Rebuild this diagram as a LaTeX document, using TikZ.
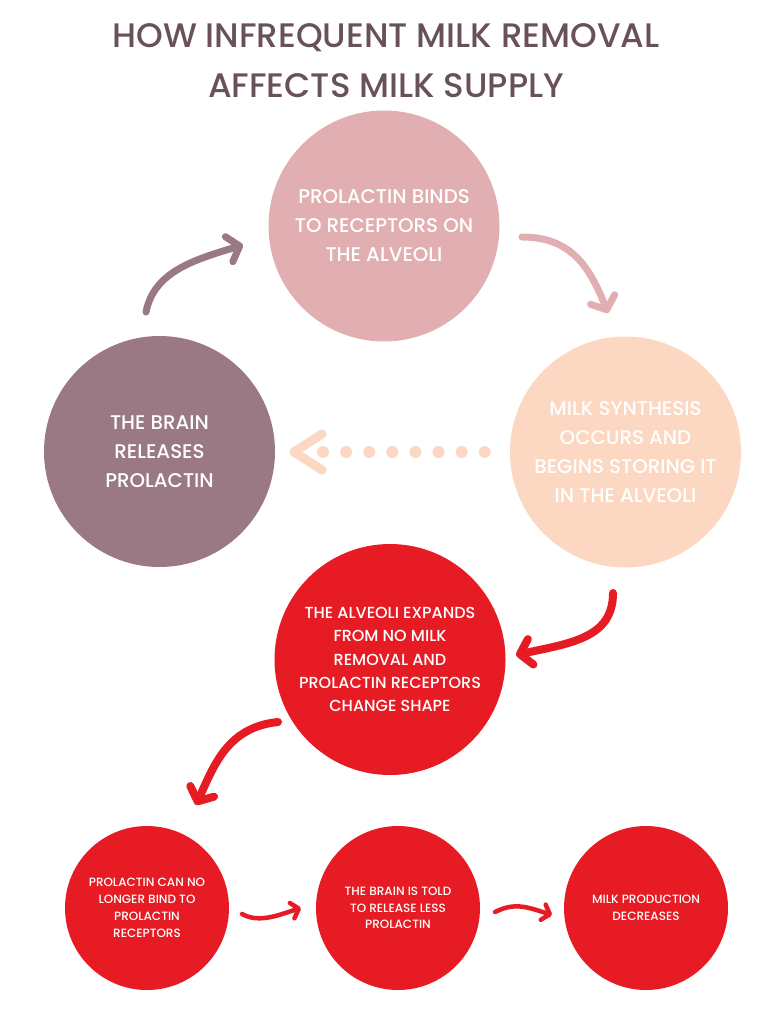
\documentclass[tikz,border=0pt]{standalone}
\usepackage{fontspec}
\setmainfont{Poppins}[UprightFont=* Medium, BoldFont=* SemiBold]
\usetikzlibrary{arrows.meta}

\definecolor{titlegrey}{HTML}{685158}
\definecolor{rosepink}{HTML}{E1AFB1}
\definecolor{mauve}{HTML}{9A7884}
\definecolor{peach}{HTML}{FCD8C2}
\definecolor{brightred}{HTML}{E61B23}

\tikzset{
  bubble/.style={circle, inner sep=0pt, minimum size=231pt, align=center,
                 text=white, font=\fontsize{19.8}{29}\selectfont},
  smallbubble/.style={circle, inner sep=0pt, minimum size=164pt, align=center,
                 text=white, fill=brightred, font=\fontsize{12}{16.8}\selectfont},
  bend arrow/.style={line width=7pt, line cap=round,
                 -{Straight Barb[length=11pt, width=26pt, round]}},
  tiny arrow/.style={line width=4.5pt, line cap=round, brightred,
                 -{Straight Barb[length=7pt, width=16pt, round]}}
}

\begin{document}
\begin{tikzpicture}[x=1pt, y=-1pt]
    \useasboundingbox (0,0) rectangle (768,1024);

    % Title
    \path (386,61) node [align=center, text=titlegrey,
          font=\fontsize{34}{50}\selectfont] (title)
          {HOW INFREQUENT MILK REMOVAL\\AFFECTS MILK SUPPLY};

    % Cycle
    \path (384,226) node [bubble, fill=rosepink] (bind)
          {PROLACTIN BINDS\\TO RECEPTORS ON\\THE ALVEOLI};
    \path (159.5,451.5) node [bubble, fill=mauve] (brain)
          {THE BRAIN\\RELEASES\\PROLACTIN};
    \path (625.5,452) node [bubble, fill=peach] (synth)
          {MILK SYNTHESIS\\OCCURS AND\\BEGINS STORING IT\\IN THE ALVEOLI};

    % No removal
    \path (390,659.5) node [bubble, fill=brightred,
          font=\fontsize{16}{23.3}\selectfont] (expand)
          {THE ALVEOLI EXPANDS\\FROM NO MILK\\REMOVAL AND\\PROLACTIN RECEPTORS\\CHANGE SHAPE};

    % Bottom row
    \path (147,908) node [smallbubble] (nobind)
          {PROLACTIN CAN NO\\LONGER BIND TO\\PROLACTIN\\RECEPTORS};
    \path (398,908) node [smallbubble] (told)
          {THE BRAIN IS TOLD\\TO RELEASE LESS\\PROLACTIN};
    \path (646,908) node [smallbubble] (less)
          {MILK PRODUCTION\\DECREASES};

    % Arrow ends
    \coordinate (brain-out) at (146,312);
    \coordinate (bind-in)   at (243,245);
    \coordinate (bind-out)  at (522,237);
    \coordinate (synth-in)  at (608,313);
    \coordinate (synth-out) at (613,593);
    \coordinate (expand-in) at (516,655);
    \coordinate (expand-out) at (278,722);
    \coordinate (nobind-in) at (196,805);
    \coordinate (nobind-out) at (242,914);
    \coordinate (told-in)   at (301,908);
    \coordinate (told-out)  at (495,912);
    \coordinate (less-in)   at (552,915);

    % Curved arrows
    \draw [bend arrow, mauve] (brain-out)
          .. controls +(8,-40) and +(-50,15) .. (bind-in);
    \draw [bend arrow, rosepink] (bind-out)
          .. controls +(50,0) and +(-18,-45) .. (synth-in);
    \draw [bend arrow, brightred, line width=8pt] (synth-out)
          .. controls +(0,45) and +(55,-12) .. (expand-in);
    \draw [bend arrow, brightred, line width=8pt] (expand-out)
          .. controls +(-50,5) and +(18,-40) .. (nobind-in);
    \draw [tiny arrow] (nobind-out)
          .. controls +(18,10) and +(-20,6) .. (told-in);
    \draw [tiny arrow] (told-out)
          .. controls +(20,-10) and +(-25,-8) .. (less-in);

    % Dotted arrow back to the brain
    \foreach \i in {0, ..., 7} {
      \path (323+\i*23.1,452) coordinate (dot\i);
      \fill [peach] (dot\i) circle (6);
    }
    \coordinate (chev-a) at (322,434);
    \coordinate (chev-tip) at (294,452);
    \coordinate (chev-b) at (322,470);
    \draw [peach, line width=9pt, line cap=round, line join=round]
          (chev-a) -- (chev-tip) -- (chev-b);
\end{tikzpicture}
\end{document}
